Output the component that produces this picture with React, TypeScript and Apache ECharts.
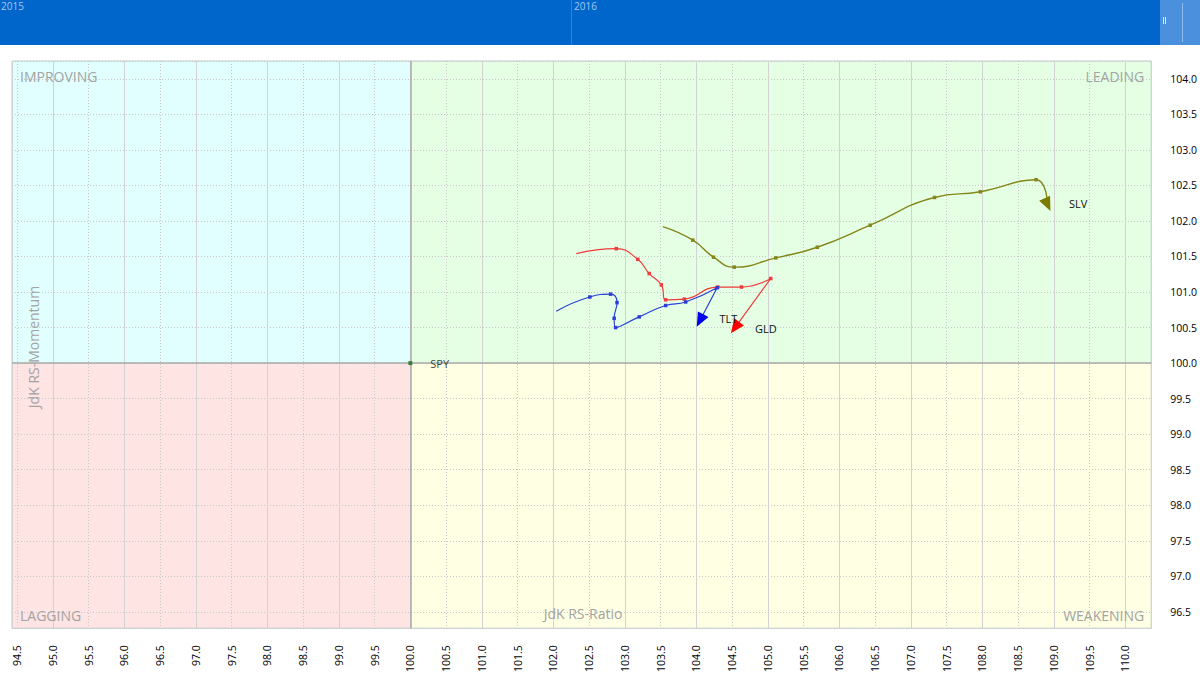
import React, { useEffect, useRef } from "react";
import * as echarts from "echarts";

// Axis extents
const X_MIN = 94.43;
const X_MAX = 110.36;
const Y_MIN = 96.27;
const Y_MAX = 104.25;
const CENTER = 100;

// Timeline bar labels
const years = ["2015", "2016"];

// Quadrant names
const quadrants = ["IMPROVING", "LEADING", "LAGGING", "WEAKENING"];
const xAxisTitle = "JdK RS-Ratio";
const yAxisTitle = "JdK RS-Momentum";

// Tails: JdK RS-Ratio (x) and JdK RS-Momentum (y)
const slvX = [103.53, 103.95, 104.24, 104.53, 105.11, 105.69, 106.43, 107.33, 107.97, 108.75, 108.91];
const slvY = [101.92, 101.73, 101.49, 101.35, 101.48, 101.63, 101.94, 102.33, 102.41, 102.58, 102.23];
const gldX = [102.32, 102.88, 103.18, 103.34, 103.51, 103.57, 103.83, 104.30, 104.63, 105.04, 104.54];
const gldY = [101.54, 101.61, 101.46, 101.26, 101.10, 100.89, 100.90, 101.07, 101.07, 101.19, 100.50];
const tltX = [102.04, 102.51, 102.80, 102.89, 102.85, 102.87, 103.20, 103.57, 103.85, 104.29, 104.05];
const tltY = [100.73, 100.93, 100.97, 100.85, 100.63, 100.50, 100.65, 100.81, 100.86, 101.06, 100.60];
const spyX = [100];
const spyY = [100];

const FONT = "'Open Sans', 'Noto Sans', sans-serif";

function buildTail(
  name: string,
  xs: number[],
  ys: number[],
  arrowColor: string,
  labelOffset: number[]
) {
  const n = xs.length;
  const dx = xs[n - 1] - xs[n - 2];
  const dy = ys[n - 1] - ys[n - 2];
  const theta = (Math.atan2(dy, dx) * 180) / Math.PI;
  return xs.map((x, i) => {
    const item: any = { value: [x, ys[i]] };
    if (i === 0) {
      item.symbol = "none";
    } else if (i === n - 1) {
      item.symbol = "triangle";
      item.symbolSize = [12, 14];
      item.symbolRotate = theta - 90;
      item.itemStyle = { color: arrowColor };
      item.label = {
        show: true,
        formatter: name,
        position: "right",
        distance: 0,
        offset: labelOffset,
        color: "#111",
        fontSize: 11,
        fontFamily: FONT,
      };
    } else {
      item.symbol = "rect";
      item.symbolSize = 3.5;
    }
    return item;
  });
}

export default function App() {
  const ref = useRef<HTMLDivElement>(null);

  useEffect(() => {
    if (!ref.current) return;
    const chart = echarts.init(ref.current, undefined, { renderer: "svg" });

    const tailSeries = (
      name: string,
      xs: number[],
      ys: number[],
      color: string,
      arrowColor: string,
      width: number,
      labelOffset: number[]
    ) => ({
      name,
      type: "line",
      smooth: 0.5,
      showSymbol: true,
      showAllSymbol: true,
      xAxisIndex: 0,
      yAxisIndex: 0,
      lineStyle: { color, width },
      itemStyle: { color },
      data: buildTail(name, xs, ys, arrowColor, labelOffset),
      z: 4,
    });

    chart.setOption({
      animation: false,
      backgroundColor: "#ffffff",
      textStyle: { fontFamily: FONT },
      grid: {
        left: 12,
        right: 47,
        top: 61,
        bottom: 43,
        show: true,
        borderColor: "#bfcaca",
        borderWidth: 1,
        backgroundColor: "transparent",
      },
      xAxis: [
        {
          type: "value",
          min: X_MIN,
          max: X_MAX,
          splitNumber: 32,
          position: "bottom",
          axisLine: { show: false },
          axisTick: { show: false },
          axisLabel: {
            show: true,
            rotate: 90,
            interval: 0,
            margin: 17,
            showMinLabel: false,
            showMaxLabel: false,
            color: "#000",
            fontSize: 10.5,
            fontFamily: FONT,
            formatter: (v: number) => v.toFixed(1),
          },
          splitLine: { show: true, lineStyle: { color: "#c8c8c8", type: [1, 2], width: 1 } },
        },
        {
          type: "value",
          min: X_MIN,
          max: X_MAX,
          splitNumber: 16,
          position: "top",
          axisLine: { show: false },
          axisTick: { show: false },
          axisLabel: { show: false },
          splitLine: { show: true, lineStyle: { color: "#d2d2d2", type: "solid", width: 1 } },
        },
      ],
      yAxis: [
        {
          type: "value",
          min: Y_MIN,
          max: Y_MAX,
          splitNumber: 16,
          position: "right",
          axisLine: { show: false },
          axisTick: { show: false },
          axisLabel: {
            show: true,
            margin: 19,
            showMinLabel: false,
            showMaxLabel: false,
            color: "#000",
            fontSize: 10.5,
            fontFamily: FONT,
            formatter: (v: number) => v.toFixed(1),
          },
          splitLine: { show: true, lineStyle: { color: "#c8c8c8", type: [1, 2], width: 1 } },
        },
      ],
      series: [
        {
          name: "SPY",
          type: "scatter",
          xAxisIndex: 0,
          yAxisIndex: 0,
          symbol: "rect",
          symbolSize: 4,
          itemStyle: { color: "#1d6b1d" },
          label: {
            show: true,
            formatter: "SPY",
            position: "right",
            distance: 0,
            offset: [18, 0],
            color: "#111",
            fontSize: 11,
            fontFamily: FONT,
          },
          data: spyX.map((x, i) => [x, spyY[i]]),
          markLine: {
            silent: true,
            symbol: "none",
            label: { show: false },
            lineStyle: { color: "#a9a9a9", type: "solid", width: 1.5 },
            data: [{ xAxis: CENTER }, { yAxis: CENTER }],
            z: 1,
          },
          z: 5,
        },
        tailSeries("SLV", slvX, slvY, "#85861a", "#7b7b00", 1.4, [13, -1]),
        tailSeries("GLD", gldX, gldY, "#ef3b3b", "#ff0000", 1.2, [11, 1]),
        tailSeries("TLT", tltX, tltY, "#2b3fd8", "#0000ee", 1.2, [11, -2]),
      ],
    });

    const finder = { xAxisIndex: 0, yAxisIndex: 0 };
    const tl = chart.convertToPixel(finder, [X_MIN, Y_MAX]) as number[];
    const br = chart.convertToPixel(finder, [X_MAX, Y_MIN]) as number[];
    const c = chart.convertToPixel(finder, [CENTER, CENTER]) as number[];

    const quadRect = (x0: number, y0: number, x1: number, y1: number, fill: string) => ({
      type: "rect",
      z: -5,
      silent: true,
      shape: { x: x0, y: y0, width: x1 - x0, height: y1 - y0 },
      style: { fill },
    });

    const qLabel = (text: string, x: number, y: number, align: string) => ({
      type: "text",
      z: 3,
      silent: true,
      x,
      y,
      style: {
        text,
        fill: "#a3a3a3",
        font: `14px ${FONT}`,
        align,
        verticalAlign: "middle",
      },
    });

    chart.setOption({
      graphic: [
        // timeline bar
        { type: "rect", z: 10, shape: { x: 0, y: 0, width: 1200, height: 45 }, style: { fill: "#0066cc" } },
        { type: "rect", z: 10, shape: { x: 1160, y: 0, width: 40, height: 45 }, style: { fill: "#4a90dc" } },
        {
          type: "line",
          z: 11,
          shape: { x1: 571.5, y1: 0, x2: 571.5, y2: 45 },
          style: { stroke: "#2f82d6", lineWidth: 1 },
        },
        {
          type: "line",
          z: 11,
          shape: { x1: 1163.5, y1: 17, x2: 1163.5, y2: 24 },
          style: { stroke: "#d8e8fa", lineWidth: 1 },
        },
        {
          type: "line",
          z: 11,
          shape: { x1: 1165.5, y1: 17, x2: 1165.5, y2: 24 },
          style: { stroke: "#d8e8fa", lineWidth: 1 },
        },
        {
          type: "line",
          z: 11,
          shape: { x1: 1182.5, y1: 3, x2: 1182.5, y2: 42 },
          style: { stroke: "#8dbbec", lineWidth: 1 },
        },
        {
          type: "text",
          z: 11,
          x: 1,
          y: 1,
          style: { text: years[0], fill: "#a8c8ee", font: `10px ${FONT}`, verticalAlign: "top" },
        },
        {
          type: "text",
          z: 11,
          x: 574,
          y: 1,
          style: { text: years[1], fill: "#a8c8ee", font: `10px ${FONT}`, verticalAlign: "top" },
        },
        // quadrant backgrounds
        quadRect(tl[0], tl[1], c[0], c[1], "#e2ffff"),
        quadRect(c[0], tl[1], br[0], c[1], "#e5ffe5"),
        quadRect(tl[0], c[1], c[0], br[1], "#ffe4e4"),
        quadRect(c[0], c[1], br[0], br[1], "#ffffe3"),
        // quadrant labels
        qLabel(quadrants[0], tl[0] + 8, tl[1] + 15, "left"),
        qLabel(quadrants[1], br[0] - 7, tl[1] + 15, "right"),
        qLabel(quadrants[2], tl[0] + 8, br[1] - 13, "left"),
        qLabel(quadrants[3], br[0] - 7, br[1] - 13, "right"),
        qLabel(xAxisTitle, 583, br[1] - 15, "center"),
        {
          type: "text",
          z: 3,
          silent: true,
          x: 33,
          y: 347,
          rotation: Math.PI / 2,
          style: {
            text: yAxisTitle,
            fill: "#a3a3a3",
            font: `14px ${FONT}`,
            align: "center",
            verticalAlign: "middle",
          },
        },
      ],
    });

    return () => chart.dispose();
  }, []);

  return (
    <div
      ref={ref}
      style={{ position: "fixed", left: 0, top: 0, width: 1200, height: 675 }}
    />
  );
}
